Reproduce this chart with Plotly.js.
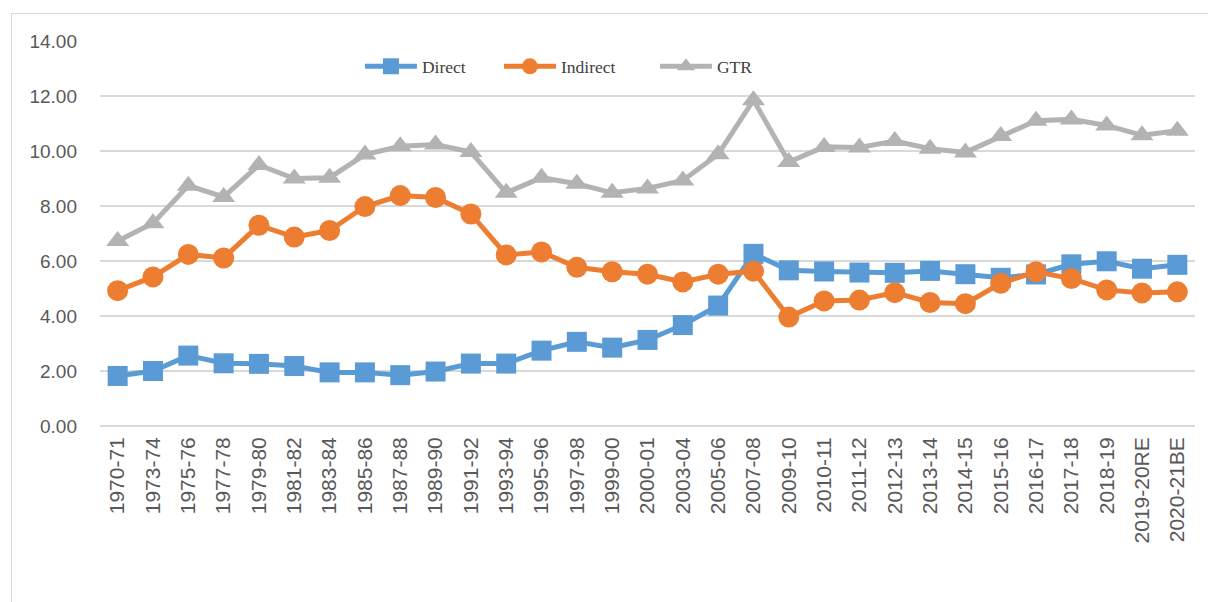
<!DOCTYPE html>
<html>
<head>
<meta charset="utf-8">
<script src="https://cdn.plot.ly/plotly-3.0.1.min.js"></script>
<style>
  html, body { margin: 0; padding: 0; background: #ffffff; overflow: hidden; }
  #frame { position: absolute; left: 11px; top: 13px; width: 1210px; height: 620px; border: 1px solid #d9d9d9; }
  #chart { position: absolute; left: 0; top: 0; width: 1208px; height: 602px; }
</style>
</head>
<body>
<div id="frame"></div>
<div id="chart"></div>
<script>
const categories = ['1970-71','1973-74','1975-76','1977-78','1979-80','1981-82','1983-84','1985-86','1987-88','1989-90','1991-92','1993-94','1995-96','1997-98','1999-00','2000-01','2003-04','2005-06','2007-08','2009-10','2010-11','2011-12','2012-13','2013-14','2014-15','2015-16','2016-17','2017-18','2018-19','2019-20RE','2020-21BE'];

const direct = [1.82,2.00,2.56,2.28,2.26,2.18,1.95,1.95,1.85,1.98,2.27,2.27,2.74,3.06,2.85,3.13,3.67,4.38,6.26,5.66,5.62,5.58,5.57,5.64,5.52,5.39,5.51,5.88,5.99,5.72,5.86];

const indirect = [4.92,5.42,6.24,6.11,7.30,6.87,7.11,7.98,8.38,8.31,7.71,6.22,6.33,5.77,5.61,5.52,5.24,5.52,5.63,3.96,4.55,4.58,4.85,4.49,4.45,5.19,5.61,5.36,4.95,4.84,4.88];

const gtr = [6.73,7.37,8.74,8.33,9.49,9.00,9.03,9.87,10.17,10.24,9.96,8.48,9.03,8.81,8.48,8.64,8.93,9.88,11.85,9.60,10.15,10.13,10.36,10.08,9.95,10.55,11.10,11.15,10.93,10.57,10.74];

const seriesNames = ['Direct', 'Indirect', 'GTR'];
const yTicks = [0, 2, 4, 6, 8, 10, 12, 14];

const traces = [
  {
    x: categories, y: direct, name: seriesNames[0], type: 'scatter', mode: 'lines+markers',
    line: { color: '#5B9BD5', width: 5 },
    marker: { symbol: 'square', size: 20, color: '#5B9BD5' },
    legendwidth: 72
  },
  {
    x: categories, y: indirect, name: seriesNames[1], type: 'scatter', mode: 'lines+markers',
    line: { color: '#ED7D31', width: 5 },
    marker: { symbol: 'circle', size: 21, color: '#ED7D31' },
    legendwidth: 89
  },
  {
    x: categories, y: gtr, name: seriesNames[2], type: 'scatter', mode: 'lines+markers',
    line: { color: '#B3B3B3', width: 5 },
    marker: { symbol: 'triangle-up', size: 20, color: '#B3B3B3' },
    legendwidth: 40
  }
];

const layout = {
  width: 1208, height: 602,
  paper_bgcolor: 'rgba(0,0,0,0)', plot_bgcolor: 'rgba(0,0,0,0)',
  margin: { l: 100, r: 13, t: 41, b: 176, pad: 0 },
  showlegend: true,
  legend: {
    orientation: 'h', x: 0.2374, xanchor: 'left', y: 0.934, yanchor: 'middle',
    font: { family: 'Liberation Serif, Times New Roman, serif', size: 17.5, color: '#404040' },
    bgcolor: 'rgba(0,0,0,0)', borderwidth: 0, entrywidthmode: 'pixels', traceorder: 'normal',
    itemwidth: 52, itemsizing: 'trace'
  },
  xaxis: {
    type: 'category', range: [-0.5, categories.length - 0.5],
    tickangle: -90, showgrid: false, showline: false, zeroline: false, ticks: '',
    tickfont: { family: 'Liberation Sans, Arial, sans-serif', size: 21, color: '#595959' },
    ticklabelstandoff: 6, fixedrange: true
  },
  yaxis: {
    range: [0, 14], tickvals: yTicks, tickformat: '.2f',
    showgrid: true, gridcolor: '#D9D9D9', gridwidth: 1.5,
    zeroline: true, zerolinecolor: '#D9D9D9', zerolinewidth: 1.5,
    showline: false, ticks: '',
    tickfont: { family: 'Liberation Sans, Arial, sans-serif', size: 19, color: '#595959' },
    ticklabelstandoff: 22, fixedrange: true
  }
};

Plotly.newPlot('chart', traces, layout, { displayModeBar: false, staticPlot: true });
</script>
</body>
</html>
